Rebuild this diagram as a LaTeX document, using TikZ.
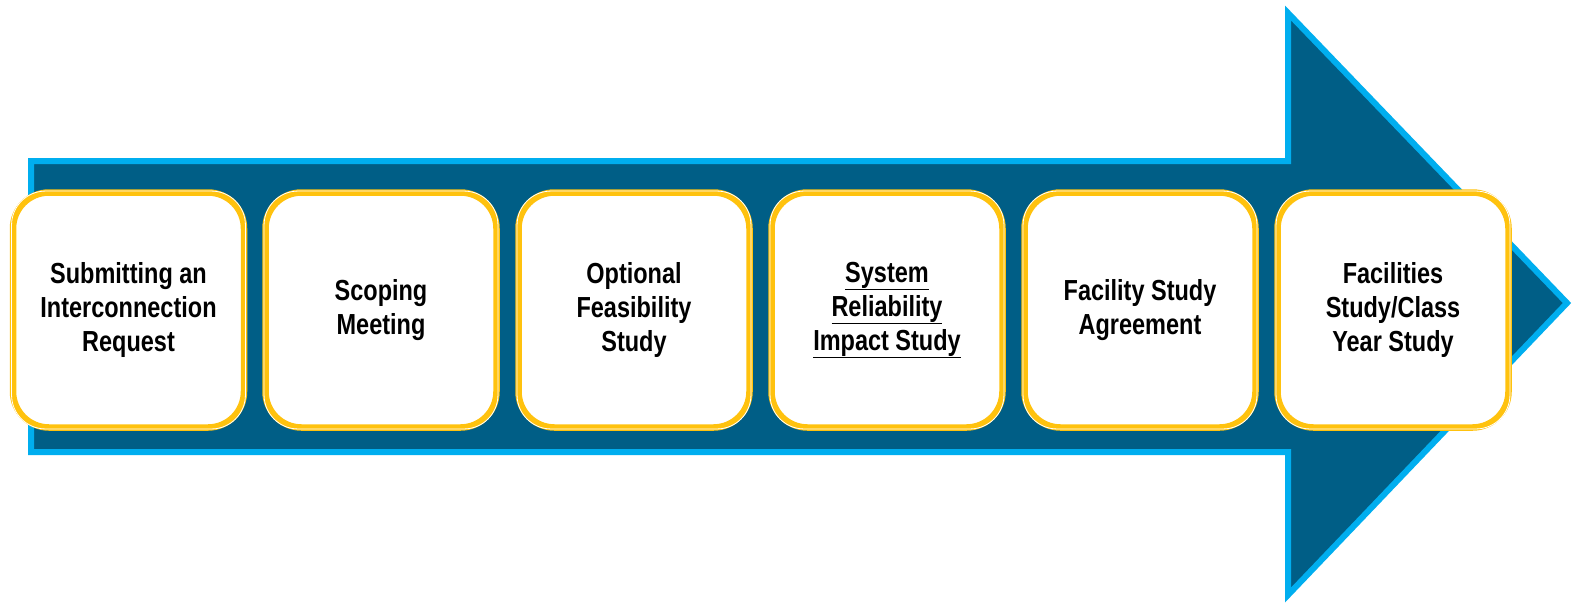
\documentclass[tikz,border=0pt]{standalone}
\usepackage{fontspec}
\newfontfamily\boxfont{Liberation Sans}[FakeStretch=0.81]
\definecolor{arrowfill}{HTML}{005E86}
\definecolor{arrowedge}{HTML}{00AEEF}
\definecolor{gold}{HTML}{FFC20E}
\tikzset{
  stepbox/.style={rounded corners=36pt, minimum width=231pt, minimum height=235pt,
    draw=gold, line width=6.5pt, fill=white, align=center, inner sep=0pt,
    font=\boxfont\bfseries\fontsize{29pt}{34pt}\selectfont, text=black},
  innerline/.style={draw=white, line width=0.8pt, rounded corners=34pt}
}
\begin{document}
\begin{tikzpicture}[x=1pt,y=-1pt]
\useasboundingbox (0,0) rectangle (1573,606);
\fill[white] (0,0) rectangle (1573,606);
\draw[fill=arrowfill, draw=arrowedge, line width=6pt, miter limit=10]
  (31,161) -- (1288,161) -- (1288,13) -- (1567,303) -- (1288,595) -- (1288,452) -- (31,452) -- cycle;
\foreach \n/\cx/\txt in {
  a/128.5/{Submitting an\\Interconnection\\Request},
  b/381/{Scoping\\Meeting},
  c/634/{Optional\\Feasibility\\Study},
  d/887/{\underline{System}\\\underline{Reliability}\\\underline{Impact Study}},
  e/1140/{Facility Study\\Agreement},
  f/1393/{Facilities\\Study/Class\\Year Study}}{
  \node[stepbox] (\n) at (\cx,310) {\txt};
  \draw[innerline] ([xshift=1.8pt,yshift=-1.8pt]\n.north west) rectangle ([xshift=-1.8pt,yshift=1.8pt]\n.south east);
}
\end{tikzpicture}
\end{document}
